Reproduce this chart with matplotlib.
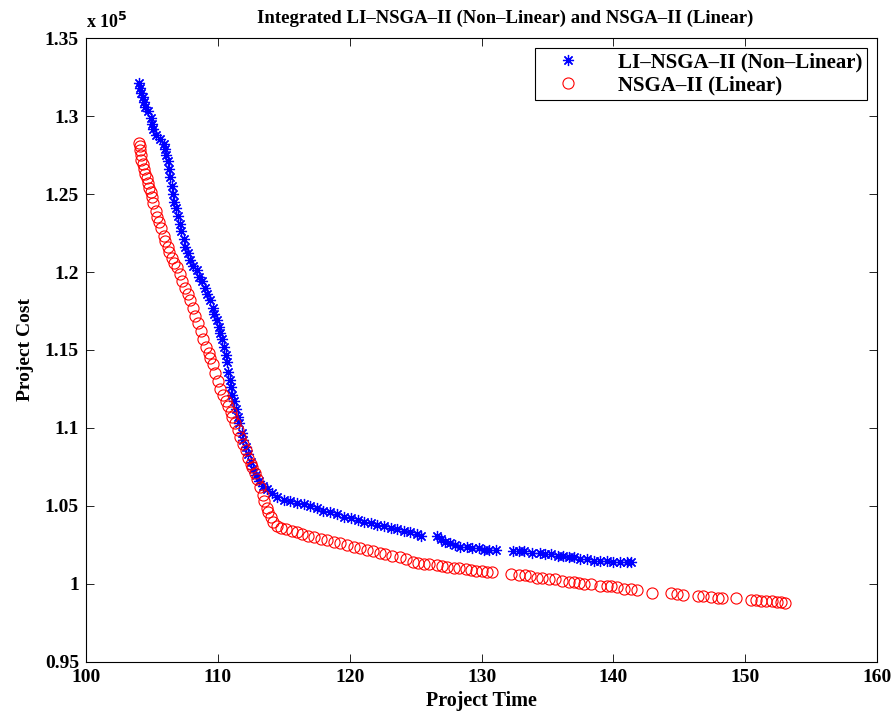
import matplotlib.pyplot as plt
from matplotlib.ticker import FixedLocator, FuncFormatter

plt.rcParams['font.family'] = ['Liberation Serif', 'DejaVu Serif']
plt.rcParams['font.weight'] = 'bold'

# NSGA-II (Linear): project time vs project cost (x 10^5)
nsga_time = [
    104.0, 104.1, 104.1, 104.2, 104.2, 104.3, 104.4, 104.5, 104.6, 104.7,
    104.8, 104.9, 105.0, 105.1, 105.3, 105.4, 105.5, 105.7, 105.9, 106.0,
    106.2, 106.3, 106.5, 106.7, 106.9, 107.1, 107.3, 107.5, 107.7, 107.9,
    108.1, 108.3, 108.5, 108.7, 108.9, 109.1, 109.3, 109.4, 109.6, 109.8,
    110.0, 110.2, 110.4, 110.6, 110.8, 111.0, 111.1, 111.3, 111.5, 111.7,
    111.9, 112.1, 112.3, 112.5, 112.6, 112.8, 113.0, 113.2, 113.4, 113.5,
    113.7, 113.8, 114.0, 114.2, 114.5, 114.8, 115.2, 115.6, 116.0, 116.4,
    116.8, 117.3, 117.8, 118.3, 118.8, 119.3, 119.8, 120.3, 120.8, 121.3,
    121.8, 122.3, 122.7, 123.2, 123.8, 124.3, 124.8, 125.2, 125.6, 126.0,
    126.6, 127.0, 127.4, 127.9, 128.3, 128.8, 129.2, 129.6, 130.0, 130.4,
    130.8, 132.2, 132.8, 133.3, 133.7, 134.2, 134.6, 135.1, 135.6, 136.1,
    136.6, 137.0, 137.4, 137.8, 138.3, 139.0, 139.5, 139.8, 140.3, 140.8,
    141.3, 141.8, 142.9, 144.4, 144.8, 145.3, 146.4, 146.8, 147.4, 147.9,
    148.2, 149.3, 150.4, 150.8, 151.2, 151.6, 152.0, 152.4, 152.7, 153.0,
]
nsga_cost = [
    1.283, 1.281, 1.278, 1.275, 1.272, 1.269, 1.266, 1.263, 1.260, 1.257,
    1.254, 1.251, 1.248, 1.244, 1.239, 1.235, 1.232, 1.228, 1.223, 1.220,
    1.216, 1.213, 1.209, 1.206, 1.203, 1.199, 1.194, 1.190, 1.186, 1.182,
    1.177, 1.172, 1.167, 1.162, 1.157, 1.152, 1.148, 1.145, 1.141, 1.135,
    1.130, 1.125, 1.121, 1.117, 1.114, 1.110, 1.107, 1.103, 1.099, 1.094,
    1.090, 1.086, 1.081, 1.077, 1.075, 1.071, 1.067, 1.062, 1.057, 1.053,
    1.049, 1.046, 1.043, 1.040, 1.037, 1.036, 1.035, 1.034, 1.033, 1.032,
    1.031, 1.030, 1.029, 1.028, 1.027, 1.026, 1.025, 1.024, 1.023, 1.022,
    1.021, 1.020, 1.019, 1.018, 1.017, 1.016, 1.014, 1.0135, 1.013, 1.013,
    1.012, 1.0115, 1.011, 1.0105, 1.010, 1.0095, 1.009, 1.0085, 1.008, 1.0078,
    1.0075, 1.0065, 1.006, 1.0055, 1.005, 1.004, 1.0035, 1.003, 1.003, 1.002,
    1.0015, 1.001, 1.0005, 1.000, 1.000, 0.999, 0.999, 0.999, 0.998, 0.997,
    0.997, 0.996, 0.9945, 0.994, 0.9935, 0.993, 0.9925, 0.992, 0.9915, 0.991,
    0.991, 0.991, 0.990, 0.990, 0.989, 0.989, 0.989, 0.9885, 0.9885, 0.988,
]

# LI-NSGA-II (Non-Linear)
li_time = [
    104.0, 104.1, 104.2, 104.3, 104.4, 104.5, 104.7, 104.9, 105.0, 105.1,
    105.3, 105.6, 105.9, 106.0, 106.1, 106.2, 106.3, 106.4, 106.5, 106.6,
    106.7, 106.8, 107.0, 107.1, 107.2, 107.4, 107.5, 107.7, 107.9, 108.1,
    108.4, 108.6, 108.8, 109.0, 109.2, 109.4, 109.6, 109.7, 109.9, 110.1,
    110.2, 110.3, 110.5, 110.6, 110.7, 110.8, 110.9, 111.0, 111.1, 111.2,
    111.4, 111.5, 111.6, 111.8, 111.9, 112.1, 112.3, 112.5, 112.7, 112.9,
    113.1, 113.4, 113.7, 114.1, 114.5, 115.0, 115.5, 116.0, 116.5, 117.0,
    117.5, 118.0, 118.5, 119.0, 119.6, 120.1, 120.6, 121.1, 121.6, 122.1,
    122.6, 123.1, 123.6, 124.1, 124.6, 125.1, 125.4, 126.6, 126.9, 127.2,
    127.6, 128.0, 128.4, 128.9, 129.3, 129.8, 130.2, 130.6, 131.1, 132.4,
    132.8, 133.2, 133.8, 134.4, 134.8, 135.3, 135.8, 136.2, 136.6, 137.0,
    137.5, 138.0, 138.5, 139.0, 139.5, 140.0, 140.5, 141.0, 141.3,
]
li_cost = [
    1.321, 1.318, 1.315, 1.312, 1.309, 1.306, 1.303, 1.299, 1.295, 1.292,
    1.288, 1.285, 1.282, 1.279, 1.275, 1.271, 1.266, 1.261, 1.255, 1.250,
    1.245, 1.241, 1.236, 1.231, 1.226, 1.221, 1.216, 1.212, 1.208, 1.204,
    1.201, 1.197, 1.194, 1.190, 1.186, 1.182, 1.177, 1.173, 1.169, 1.165,
    1.161, 1.157, 1.152, 1.147, 1.142, 1.136, 1.131, 1.126, 1.121, 1.117,
    1.112, 1.107, 1.103, 1.097, 1.092, 1.088, 1.083, 1.078, 1.074, 1.070,
    1.066, 1.063, 1.061, 1.058, 1.056, 1.054, 1.053, 1.052, 1.051, 1.050,
    1.049, 1.047, 1.046, 1.045, 1.043, 1.042, 1.041, 1.040, 1.039, 1.038,
    1.037, 1.036, 1.035, 1.034, 1.033, 1.032, 1.031, 1.031, 1.029, 1.027,
    1.026, 1.025, 1.024, 1.024, 1.023, 1.023, 1.022, 1.022, 1.022, 1.021,
    1.021, 1.021, 1.020, 1.020, 1.019, 1.019, 1.018, 1.018, 1.017, 1.017,
    1.016, 1.016, 1.015, 1.015, 1.015, 1.014, 1.014, 1.014, 1.014,
]

x_ticks = [100, 110, 120, 130, 140, 150, 160]
y_ticks = [0.95, 1.0, 1.05, 1.1, 1.15, 1.2, 1.25, 1.3, 1.35]

fig = plt.figure(figsize=(8.91, 7.11), dpi=100)
ax = fig.add_axes([0.0965, 0.069, 0.888, 0.8775])

# plot order: LI first so it shows first in legend
ax.plot(li_time, li_cost, linestyle='none', marker=(8, 2, 0), markersize=8,
        color='blue', markeredgewidth=0.9, label='LI\u2013NSGA\u2013II (Non\u2013Linear)')
ax.plot(nsga_time, nsga_cost, linestyle='none', marker='o', markersize=8,
        markerfacecolor='none', markeredgecolor='red', markeredgewidth=0.8,
        label='NSGA\u2013II (Linear)')

ax.set_xlim(100, 160)
ax.set_ylim(0.95, 1.35)
ax.xaxis.set_major_locator(FixedLocator(x_ticks))
ax.yaxis.set_major_locator(FixedLocator(y_ticks))
ax.yaxis.set_major_formatter(FuncFormatter(lambda v, p: f'{v:g}'))
ax.tick_params(direction='in', length=6, width=0.6, top=True, right=True,
               labelsize=14, pad=5)
for lbl in ax.get_xticklabels() + ax.get_yticklabels():
    lbl.set_fontweight('bold')
for sp in ax.spines.values():
    sp.set_linewidth(0.8)

ax.set_xlabel('Project Time', fontsize=14.5, fontweight='bold', labelpad=4)
ax.set_ylabel('Project Cost', fontsize=14, fontweight='bold', labelpad=8)
ax.set_title('Integrated LI\u2013NSGA\u2013II (Non\u2013Linear) and NSGA\u2013II (Linear)',
             fontsize=13.5, fontweight='bold', pad=11, x=0.53)
ax.text(0.0, 1.01, r'x 10$^{\mathbf{5}}$', transform=ax.transAxes,
        fontsize=13, fontweight='bold', ha='left', va='bottom')

leg = ax.legend(loc='upper right', fontsize=15, fancybox=False, edgecolor='black',
                framealpha=1, borderaxespad=0.5, handletextpad=1.0, handlelength=2.8,
                borderpad=0.2, labelspacing=0.15)
leg.get_frame().set_linewidth(0.8)
for t in leg.get_texts():
    t.set_fontweight('bold')

fig.savefig('out.png', dpi=100)
